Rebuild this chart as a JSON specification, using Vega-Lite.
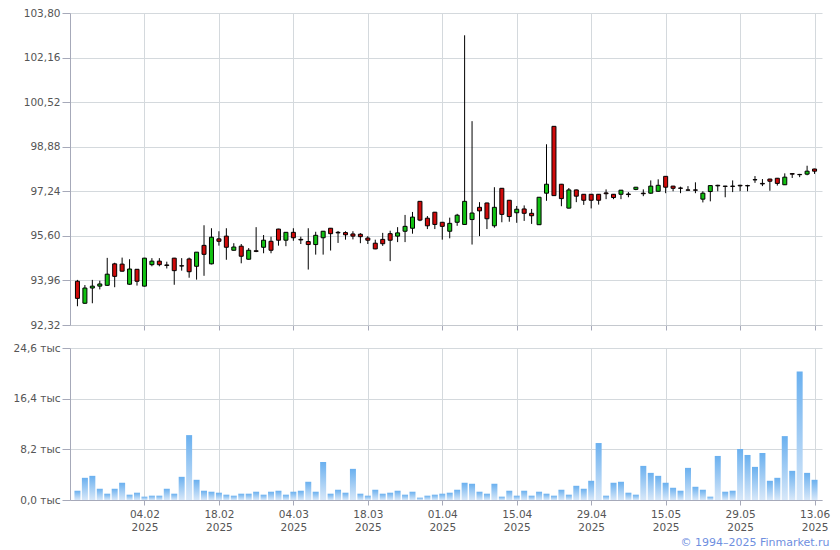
{
  "$schema": "https://vega.github.io/schema/vega-lite/v6.json",
  "background": "white",
  "padding": {"left": 13, "top": 8, "right": 5, "bottom": 4},
  "title": {"text": "© 1994–2025 Finmarket.ru", "orient": "bottom", "anchor": "end", "color": "#6f8fdf", "fontSize": 11, "font": "DejaVu Sans", "fontWeight": "normal", "offset": 4},
  "spacing": 23,
  "bounds": "flush",
  "config": {
    "view": {"stroke": null},
    "axis": {"labelFont": "DejaVu Sans", "labelFontSize": 10.5, "labelColor": "#555555", "gridColor": "#d4d9dd", "gridWidth": 1, "domainColor": "#a6a9b9", "tickColor": "#a6a9b9", "title": null}
  },
  "data": {"values": [
    {"d":"2025-01-22","o":93.93,"h":93.98,"l":93.01,"c":93.30,"v":1500},
    {"d":"2025-01-23","o":93.12,"h":93.79,"l":93.10,"c":93.68,"v":3590},
    {"d":"2025-01-24","o":93.68,"h":93.98,"l":93.12,"c":93.75,"v":3910},
    {"d":"2025-01-27","o":93.75,"h":93.95,"l":93.63,"c":93.83,"v":1820},
    {"d":"2025-01-28","o":93.78,"h":94.79,"l":93.76,"c":94.19,"v":1020},
    {"d":"2025-01-29","o":94.57,"h":94.61,"l":93.71,"c":94.11,"v":1820},
    {"d":"2025-01-30","o":94.56,"h":94.80,"l":94.29,"c":94.30,"v":2790},
    {"d":"2025-01-31","o":93.82,"h":94.74,"l":93.80,"c":94.38,"v":860},
    {"d":"2025-02-03","o":94.37,"h":94.38,"l":93.77,"c":93.93,"v":1180},
    {"d":"2025-02-04","o":93.75,"h":94.79,"l":93.74,"c":94.78,"v":540},
    {"d":"2025-02-05","o":94.54,"h":94.78,"l":94.48,"c":94.67,"v":700},
    {"d":"2025-02-06","o":94.67,"h":94.78,"l":94.48,"c":94.54,"v":700},
    {"d":"2025-02-07","o":94.53,"h":94.65,"l":94.40,"c":94.51,"v":1820},
    {"d":"2025-02-10","o":94.78,"h":94.79,"l":93.80,"c":94.32,"v":1020},
    {"d":"2025-02-11","o":94.50,"h":94.78,"l":94.32,"c":94.49,"v":3750},
    {"d":"2025-02-12","o":94.75,"h":94.80,"l":94.06,"c":94.28,"v":10500},
    {"d":"2025-02-13","o":94.48,"h":95.00,"l":93.99,"c":95.00,"v":3270},
    {"d":"2025-02-14","o":95.25,"h":95.99,"l":94.13,"c":94.92,"v":1500},
    {"d":"2025-02-17","o":94.57,"h":95.88,"l":94.55,"c":95.55,"v":1340},
    {"d":"2025-02-18","o":95.49,"h":95.77,"l":95.24,"c":95.40,"v":1180},
    {"d":"2025-02-19","o":95.59,"h":95.88,"l":94.72,"c":95.18,"v":860},
    {"d":"2025-02-20","o":95.07,"h":95.33,"l":95.06,"c":95.19,"v":700},
    {"d":"2025-02-21","o":95.22,"h":95.30,"l":94.59,"c":94.85,"v":1020},
    {"d":"2025-02-24","o":94.74,"h":95.15,"l":94.73,"c":95.07,"v":1020},
    {"d":"2025-02-25","o":95.05,"h":95.92,"l":95.00,"c":95.03,"v":1340},
    {"d":"2025-02-26","o":95.18,"h":95.63,"l":94.96,"c":95.44,"v":860},
    {"d":"2025-02-27","o":95.40,"h":95.57,"l":94.96,"c":95.07,"v":1340},
    {"d":"2025-02-28","o":95.85,"h":95.86,"l":95.24,"c":95.44,"v":1500},
    {"d":"2025-03-03","o":95.44,"h":95.74,"l":95.22,"c":95.73,"v":860},
    {"d":"2025-03-04","o":95.73,"h":95.88,"l":95.42,"c":95.53,"v":1340},
    {"d":"2025-03-05","o":95.47,"h":95.57,"l":95.30,"c":95.45,"v":1500},
    {"d":"2025-03-06","o":95.39,"h":95.88,"l":94.36,"c":95.28,"v":2950},
    {"d":"2025-03-07","o":95.28,"h":95.75,"l":94.91,"c":95.62,"v":1340},
    {"d":"2025-03-10","o":95.53,"h":95.78,"l":94.91,"c":95.77,"v":6160},
    {"d":"2025-03-11","o":95.88,"h":95.89,"l":95.06,"c":95.68,"v":1020},
    {"d":"2025-03-12","o":95.73,"h":95.78,"l":95.34,"c":95.71,"v":1660},
    {"d":"2025-03-13","o":95.72,"h":95.77,"l":95.46,"c":95.64,"v":1180},
    {"d":"2025-03-14","o":95.67,"h":95.77,"l":95.47,"c":95.59,"v":5040},
    {"d":"2025-03-17","o":95.66,"h":95.70,"l":95.33,"c":95.57,"v":1020},
    {"d":"2025-03-18","o":95.52,"h":95.59,"l":95.30,"c":95.44,"v":700},
    {"d":"2025-03-19","o":95.33,"h":95.46,"l":95.11,"c":95.12,"v":1660},
    {"d":"2025-03-20","o":95.47,"h":95.71,"l":95.23,"c":95.31,"v":1020},
    {"d":"2025-03-21","o":95.68,"h":95.79,"l":94.67,"c":95.44,"v":1180},
    {"d":"2025-03-24","o":95.59,"h":95.92,"l":95.37,"c":95.71,"v":1500},
    {"d":"2025-03-25","o":95.77,"h":96.37,"l":95.37,"c":95.95,"v":860},
    {"d":"2025-03-26","o":95.88,"h":96.48,"l":95.68,"c":96.29,"v":1340},
    {"d":"2025-03-27","o":96.87,"h":96.88,"l":96.14,"c":96.18,"v":380},
    {"d":"2025-03-28","o":96.25,"h":96.33,"l":95.85,"c":95.97,"v":700},
    {"d":"2025-03-31","o":96.47,"h":96.48,"l":95.85,"c":96.02,"v":860},
    {"d":"2025-04-01","o":96.10,"h":96.11,"l":95.46,"c":95.95,"v":1020},
    {"d":"2025-04-02","o":95.77,"h":96.27,"l":95.51,"c":96.06,"v":1180},
    {"d":"2025-04-03","o":96.10,"h":96.41,"l":95.97,"c":96.36,"v":1660},
    {"d":"2025-04-04","o":96.02,"h":102.98,"l":96.00,"c":96.87,"v":2790},
    {"d":"2025-04-07","o":96.20,"h":99.82,"l":95.28,"c":96.44,"v":2630},
    {"d":"2025-04-08","o":96.65,"h":96.84,"l":95.59,"c":96.52,"v":1340},
    {"d":"2025-04-09","o":96.81,"h":96.82,"l":95.85,"c":96.23,"v":1020},
    {"d":"2025-04-10","o":95.97,"h":97.39,"l":95.90,"c":96.65,"v":2630},
    {"d":"2025-04-11","o":97.35,"h":97.36,"l":96.10,"c":96.39,"v":540},
    {"d":"2025-04-14","o":96.91,"h":96.92,"l":96.12,"c":96.31,"v":1500},
    {"d":"2025-04-15","o":96.45,"h":96.70,"l":96.08,"c":96.58,"v":700},
    {"d":"2025-04-16","o":96.59,"h":96.72,"l":96.15,"c":96.43,"v":1500},
    {"d":"2025-04-17","o":96.43,"h":96.59,"l":96.04,"c":96.34,"v":700},
    {"d":"2025-04-18","o":96.01,"h":97.03,"l":96.00,"c":97.02,"v":1340},
    {"d":"2025-04-21","o":97.17,"h":98.97,"l":96.89,"c":97.50,"v":1020},
    {"d":"2025-04-22","o":99.63,"h":99.64,"l":97.07,"c":97.08,"v":700},
    {"d":"2025-04-23","o":97.50,"h":97.51,"l":96.69,"c":96.97,"v":1660},
    {"d":"2025-04-24","o":96.62,"h":97.36,"l":96.61,"c":97.29,"v":860},
    {"d":"2025-04-25","o":97.29,"h":97.30,"l":96.84,"c":97.06,"v":2300},
    {"d":"2025-04-28","o":97.13,"h":97.14,"l":96.74,"c":96.91,"v":1820},
    {"d":"2025-04-29","o":97.13,"h":97.14,"l":96.61,"c":96.91,"v":3110},
    {"d":"2025-04-30","o":97.13,"h":97.14,"l":96.75,"c":96.91,"v":9220},
    {"d":"2025-05-02","o":97.18,"h":97.31,"l":96.95,"c":97.15,"v":700},
    {"d":"2025-05-05","o":97.13,"h":97.14,"l":96.95,"c":97.01,"v":2790},
    {"d":"2025-05-06","o":97.13,"h":97.29,"l":96.95,"c":97.28,"v":2950},
    {"d":"2025-05-07","o":97.14,"h":97.21,"l":97.02,"c":97.12,"v":1180},
    {"d":"2025-05-08","o":97.31,"h":97.40,"l":97.28,"c":97.39,"v":860},
    {"d":"2025-05-12","o":97.17,"h":97.31,"l":97.06,"c":97.15,"v":5520},
    {"d":"2025-05-13","o":97.17,"h":97.64,"l":97.15,"c":97.43,"v":4390},
    {"d":"2025-05-14","o":97.24,"h":97.68,"l":97.22,"c":97.46,"v":3910},
    {"d":"2025-05-15","o":97.79,"h":97.80,"l":97.17,"c":97.39,"v":2790},
    {"d":"2025-05-16","o":97.43,"h":97.44,"l":97.24,"c":97.35,"v":1980},
    {"d":"2025-05-19","o":97.36,"h":97.41,"l":97.17,"c":97.35,"v":1500},
    {"d":"2025-05-20","o":97.29,"h":97.43,"l":97.27,"c":97.28,"v":5200},
    {"d":"2025-05-21","o":97.29,"h":97.57,"l":97.17,"c":97.28,"v":2140},
    {"d":"2025-05-22","o":96.95,"h":97.24,"l":96.83,"c":97.17,"v":1660},
    {"d":"2025-05-23","o":97.23,"h":97.46,"l":96.87,"c":97.45,"v":540},
    {"d":"2025-05-26","o":97.46,"h":97.48,"l":97.24,"c":97.44,"v":7130},
    {"d":"2025-05-27","o":97.43,"h":97.44,"l":97.02,"c":97.42,"v":1340},
    {"d":"2025-05-28","o":97.43,"h":97.64,"l":97.21,"c":97.42,"v":1500},
    {"d":"2025-05-29","o":97.46,"h":97.48,"l":97.24,"c":97.44,"v":8250},
    {"d":"2025-05-30","o":97.45,"h":97.48,"l":97.24,"c":97.44,"v":7290},
    {"d":"2025-06-02","o":97.67,"h":97.80,"l":97.55,"c":97.66,"v":5360},
    {"d":"2025-06-03","o":97.53,"h":97.69,"l":97.43,"c":97.51,"v":7610},
    {"d":"2025-06-04","o":97.69,"h":97.70,"l":97.26,"c":97.61,"v":3110},
    {"d":"2025-06-05","o":97.72,"h":97.73,"l":97.45,"c":97.53,"v":3590},
    {"d":"2025-06-06","o":97.48,"h":97.90,"l":97.47,"c":97.76,"v":10340},
    {"d":"2025-06-09","o":97.89,"h":97.89,"l":97.73,"c":97.87,"v":4720},
    {"d":"2025-06-10","o":97.86,"h":97.88,"l":97.76,"c":97.85,"v":20790},
    {"d":"2025-06-11","o":97.87,"h":98.18,"l":97.83,"c":97.98,"v":4390},
    {"d":"2025-06-13","o":98.06,"h":98.07,"l":97.88,"c":97.98,"v":3270}
  ]},
  "vconcat": [
    {
      "width": 752,
      "height": 312,
      "encoding": {
        "x": {"field": "d", "type": "ordinal", "sort": "ascending", "scale": {"type": "point", "padding": 1.1},
              "axis": {"values": ["2025-02-04","2025-02-18","2025-03-04","2025-03-18","2025-04-01","2025-04-15","2025-04-29","2025-05-15","2025-05-29","2025-06-13"], "labels": false, "grid": true, "tickSize": 5, "domainColor": "#c4c8ce"}}
      },
      "layer": [
        {
          "mark": {"type": "rule", "color": "black", "strokeWidth": 1},
          "encoding": {
            "y": {"field": "l", "type": "quantitative", "scale": {"domain": [92.32, 103.8], "nice": false, "zero": false},
                  "axis": {"values": [92.32, 93.96, 95.6, 97.24, 98.88, 100.52, 102.16, 103.8], "labelExpr": "replace(format(datum.value, '.2f'), '.', ',')", "tickSize": 8, "labelPadding": 2}},
            "y2": {"field": "h"}
          }
        },
        {
          "mark": {"type": "bar", "size": 4, "stroke": "black", "strokeWidth": 1},
          "encoding": {
            "y": {"field": "o", "type": "quantitative", "scale": {"domain": [92.32, 103.8], "nice": false, "zero": false},
                  "axis": {"values": [92.32, 93.96, 95.6, 97.24, 98.88, 100.52, 102.16, 103.8], "labelExpr": "replace(format(datum.value, '.2f'), '.', ',')", "tickSize": 8, "labelPadding": 2}},
            "y2": {"field": "c"},
            "fill": {"condition": {"test": "datum.c >= datum.o", "value": "#12c212"}, "value": "#d00a0a"}
          }
        }
      ]
    },
    {
      "width": 752,
      "height": 152,
      "mark": {"type": "bar", "size": 6, "color": {"gradient": "linear", "x1": 0, "y1": 0, "x2": 0, "y2": 1, "stops": [{"offset": 0, "color": "#6ab0ef"}, {"offset": 1, "color": "#d8e8f9"}]}},
      "encoding": {
        "x": {"field": "d", "type": "ordinal", "sort": "ascending", "scale": {"type": "point", "padding": 1.1},
              "axis": {"values": ["2025-02-04","2025-02-18","2025-03-04","2025-03-18","2025-04-01","2025-04-15","2025-04-29","2025-05-15","2025-05-29","2025-06-13"], "labelExpr": "[slice(datum.value, 8, 10) + '.' + slice(datum.value, 5, 7), slice(datum.value, 0, 4)]", "labelAngle": 0, "labelLineHeight": 13, "labelPadding": 4, "grid": true, "tickSize": 5}},
        "y": {"field": "v", "type": "quantitative", "scale": {"domain": [0, 24600], "nice": false},
              "axis": {"values": [0, 8200, 16400, 24600], "labelExpr": "replace(format(datum.value / 1000, '.1f'), '.', ',') + ' тыс'", "tickSize": 8, "labelPadding": 2}}
      }
    }
  ]
}
